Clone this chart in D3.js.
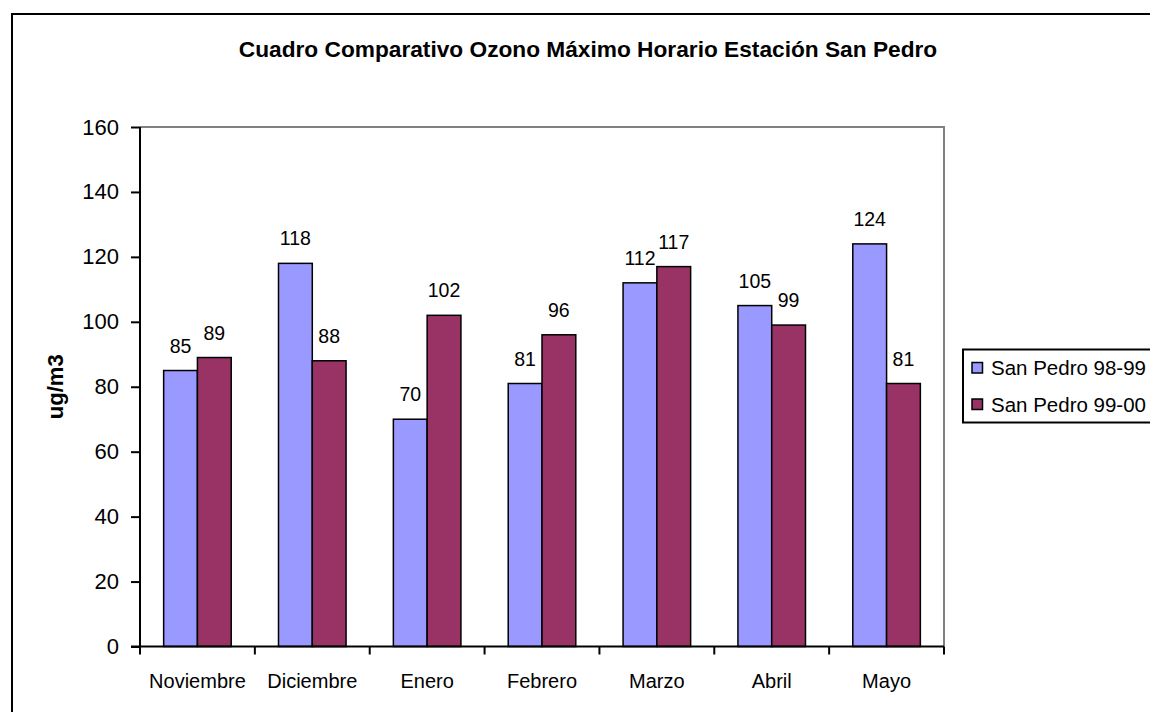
<!DOCTYPE html>
<html>
<head>
<meta charset="utf-8">
<script src="https://cdn.jsdelivr.net/npm/d3@7"></script>
<style>
  body { margin: 0; background: #fff; }
  svg { display: block; font-family: Arial, "Liberation Sans", sans-serif; }
</style>
</head>
<body>
<svg width="1150" height="712"></svg>
<script>
// chart data
var months = ['Noviembre', 'Diciembre', 'Enero', 'Febrero', 'Marzo', 'Abril', 'Mayo']
var seriesNames = ['San Pedro 98-99', 'San Pedro 99-00']
var values9899 = [85, 118, 70, 81, 112, 105, 124]
var values9900 = [89, 88, 102, 96, 117, 99, 81]
var yTicks = [0, 20, 40, 60, 80, 100, 120, 140, 160]
var colors = ['#9999ff', '#993366']

var svg = d3.select('svg')

// outer frame (runs off the right and bottom edge)
svg.append('rect')
    .attr('x', 12).attr('y', 14)
    .attr('width', 1160).attr('height', 720)
    .attr('fill', 'none').attr('stroke', '#000').attr('stroke-width', 2)

var plot = { left: 140, top: 127, right: 944, bottom: 646.5 }

var x = d3.scaleBand()
    .domain(months)
    .range([plot.left, plot.right])
    .paddingInner(0).paddingOuter(0)

// two bars per month, the rest of the band is gap
var inner = d3.scaleBand()
    .domain([0, 1])
    .range([0, x.bandwidth()])
    .paddingOuter(0.7).paddingInner(0)

var y = d3.scaleLinear()
    .domain([0, 160])
    .range([plot.bottom, plot.top])

// title
svg.append('text')
    .attr('x', 588).attr('y', 57)
    .attr('text-anchor', 'middle')
    .style('font-size', '22.7px').style('font-weight', 'bold')
    .text('Cuadro Comparativo Ozono Máximo Horario Estación San Pedro')

// plot area border (grey top and right)
svg.append('path')
    .attr('d', 'M' + plot.left + ',' + plot.top + 'H' + plot.right + 'V' + plot.bottom)
    .attr('fill', 'none').attr('stroke', '#808080').attr('stroke-width', 2)

// bars
var groups = svg.selectAll('.month')
    .data(months)
    .enter().append('g')
    .attr('class', 'month')
    .attr('transform', function (d) { return 'translate(' + x(d) + ',0)' })

var allSeries = [values9899, values9900]

groups.each(function (m, i) {
    var g = d3.select(this)
    var pts = allSeries.map(function (s, k) { return { k: k, v: s[i] } })

    g.selectAll('rect')
        .data(pts)
        .enter().append('rect')
        .attr('x', function (d) { return inner(d.k) })
        .attr('y', function (d) { return y(d.v) })
        .attr('width', inner.bandwidth())
        .attr('height', function (d) { return y(0) - y(d.v) })
        .attr('fill', function (d) { return colors[d.k] })
        .attr('stroke', '#000').attr('stroke-width', 1.5)

    g.selectAll('text')
        .data(pts)
        .enter().append('text')
        .attr('x', function (d) { return inner(d.k) + inner.bandwidth() / 2 })
        .attr('y', function (d) { return y(d.v) - 18 })
        .attr('text-anchor', 'middle')
        .style('font-size', '19.5px')
        .text(function (d) { return d.v })
})

// y axis
var yAxis = svg.append('g')
    .attr('transform', 'translate(' + plot.left + ',0)')
    .call(d3.axisLeft(y).tickValues(yTicks).tickSize(9).tickPadding(12))
yAxis.selectAll('path, line').attr('stroke', '#000').attr('stroke-width', 2)
yAxis.select('.domain').attr('d', 'M0,' + plot.top + 'V' + plot.bottom)
yAxis.selectAll('text')
    .style('font-size', '22px').style('font-family', 'Arial, "Liberation Sans", sans-serif')
    .attr('fill', '#000')

// x axis, ticks on category boundaries
var xAxis = svg.append('g')
    .attr('transform', 'translate(0,' + plot.bottom + ')')
    .call(d3.axisBottom(x).tickSize(0).tickPadding(27))
xAxis.select('.domain').attr('d', 'M' + (plot.left - 9) + ',0H' + plot.right)
    .attr('stroke', '#000').attr('stroke-width', 2)
xAxis.selectAll('text')
    .style('font-size', '20px').style('font-family', 'Arial, "Liberation Sans", sans-serif')
    .attr('fill', '#000')
xAxis.selectAll('.bound')
    .data(months.concat(['end']))
    .enter().append('line')
    .attr('class', 'bound')
    .attr('x1', function (d, i) { return plot.left + i * x.step() })
    .attr('x2', function (d, i) { return plot.left + i * x.step() })
    .attr('y1', 0).attr('y2', 8)
    .attr('stroke', '#000').attr('stroke-width', 2)

// y axis title
svg.append('text')
    .attr('transform', 'translate(55,' + ((plot.top + plot.bottom) / 2) + ') rotate(-90)')
    .attr('text-anchor', 'middle')
    .attr('dy', '0.35em')
    .style('font-size', '22px').style('font-weight', 'bold')
    .text('ug/m3')

// legend
var legend = svg.append('g')
legend.append('rect')
    .attr('x', 963).attr('y', 349.5)
    .attr('width', 220).attr('height', 73)
    .attr('fill', '#fff').attr('stroke', '#000').attr('stroke-width', 2)

var items = legend.selectAll('.item')
    .data(seriesNames)
    .enter().append('g')
    .attr('class', 'item')
    .attr('transform', function (d, i) { return 'translate(0,' + (368 + i * 36.5) + ')' })
items.append('rect')
    .attr('x', 972).attr('y', -5.5)
    .attr('width', 10.5).attr('height', 10.5)
    .attr('fill', function (d, i) { return colors[i] })
    .attr('stroke', '#000').attr('stroke-width', 1.5)
items.append('text')
    .attr('x', 991).attr('dy', '0.36em')
    .style('font-size', '20.5px')
    .text(function (d) { return d })
</script>
</body>
</html>
